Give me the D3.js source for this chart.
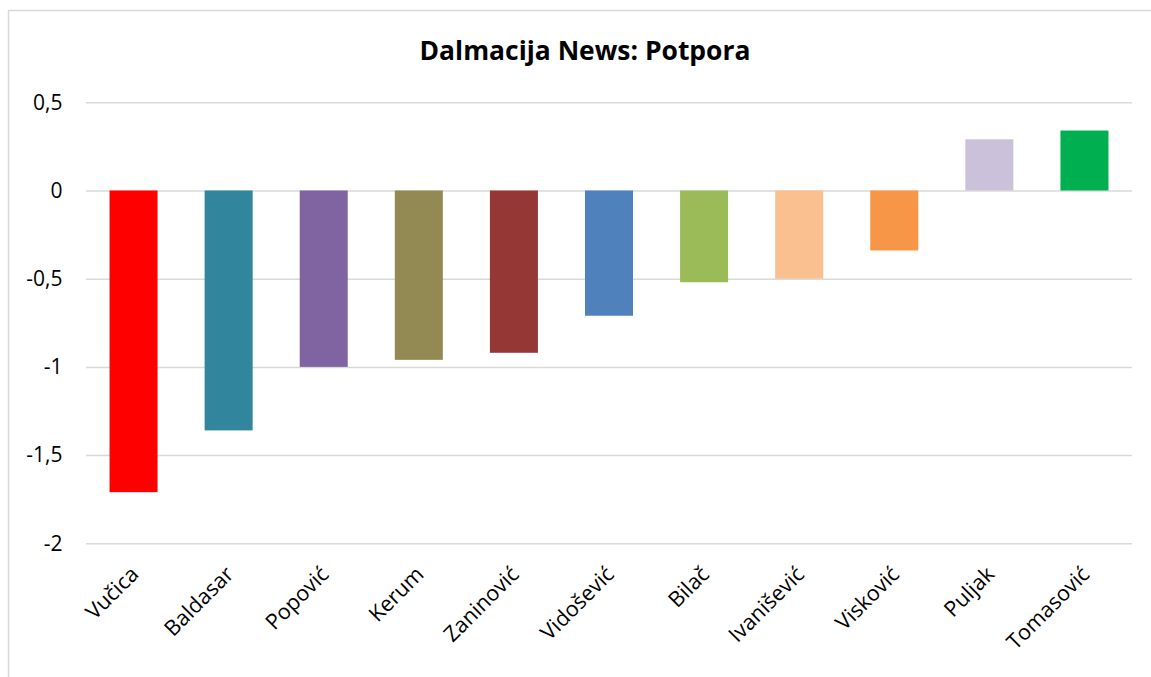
<!DOCTYPE html>
<html>
<head>
<meta charset="utf-8">
<script src="https://cdn.jsdelivr.net/npm/d3@7"></script>
<style>
  html, body { margin: 0; padding: 0; background: #fff; }
  svg { display: block; }
</style>
</head>
<body>
<svg id="chart" width="1151" height="677"></svg>
<script>
const title = "Dalmacija News: Potpora";
const categories = ["Vučica", "Baldasar", "Popović", "Kerum", "Zaninović", "Vidošević", "Bilač", "Ivanišević", "Visković", "Puljak", "Tomasović"];
const values = [-1.71, -1.36, -1.00, -0.96, -0.92, -0.71, -0.52, -0.50, -0.34, 0.29, 0.34];
const colors = ["#FF0000", "#31859C", "#8064A2", "#938953", "#953735", "#4F81BD", "#9BBB59", "#FAC090", "#F79646", "#CCC1DA", "#00B050"];
const yTicks = [0.5, 0, -0.5, -1, -1.5, -2];
const yTickLabels = ["0,5", "0", "-0,5", "-1", "-1,5", "-2"];

const svg = d3.select("#chart");
const font = "'Open Sans', 'DejaVu Sans', sans-serif";

// chart border
svg.append("rect")
  .attr("x", 8.5).attr("y", 10.5)
  .attr("width", 1160).attr("height", 700)
  .attr("fill", "#fff").attr("stroke", "#d9d9d9").attr("stroke-width", 1.5);

const plot = { left: 86, right: 1132, top: 102.3, bottom: 543.3 };

const x = d3.scaleBand()
  .domain(categories)
  .range([plot.left, plot.right])
  .paddingInner(0.495)
  .paddingOuter(0.2475);

const y = d3.scaleLinear()
  .domain([-2, 0.5])
  .range([plot.bottom, plot.top]);

// gridlines
const yAxis = d3.axisLeft(y)
  .tickValues(yTicks)
  .tickSize(-(plot.right - plot.left))
  .tickFormat((d, i) => yTickLabels[i]);

const gy = svg.append("g")
  .attr("transform", `translate(${plot.left},0)`)
  .call(yAxis);
gy.select(".domain").remove();
gy.selectAll(".tick line").attr("stroke", "#d9d9d9").attr("stroke-width", 1.5);
gy.selectAll(".tick text")
  .attr("x", -23.5)
  .attr("font-family", font)
  .attr("font-size", 21)
  .attr("fill", "#000");

// bars
svg.append("g").selectAll("rect")
  .data(values)
  .join("rect")
  .attr("x", (d, i) => x(categories[i]))
  .attr("width", x.bandwidth())
  .attr("y", d => y(Math.max(0, d)))
  .attr("height", d => Math.abs(y(d) - y(0)))
  .attr("fill", (d, i) => colors[i]);

// x labels
const xAxis = d3.axisBottom(x).tickSize(0);
const gx = svg.append("g")
  .attr("transform", `translate(0,${plot.bottom})`)
  .call(xAxis);
gx.select(".domain").remove();
gx.selectAll(".tick text")
  .attr("font-family", font)
  .attr("font-size", 21.5)
  .attr("fill", "#000")
  .attr("text-anchor", "end")
  .attr("x", 0).attr("y", 0)
  .attr("dy", "0.35em")
  .attr("transform", "translate(1,27) rotate(-45)");

// title
const t = svg.append("text")
  .attr("x", 585)
  .attr("y", 59.5)
  .attr("text-anchor", "middle")
  .attr("font-family", font)
  .attr("font-weight", "bold")
  .attr("font-size", 22)
  .attr("fill", "#000")
  .text(title);
const w = t.node().getComputedTextLength();
t.attr("font-size", 22 * 331 / w);
</script>
</body>
</html>
